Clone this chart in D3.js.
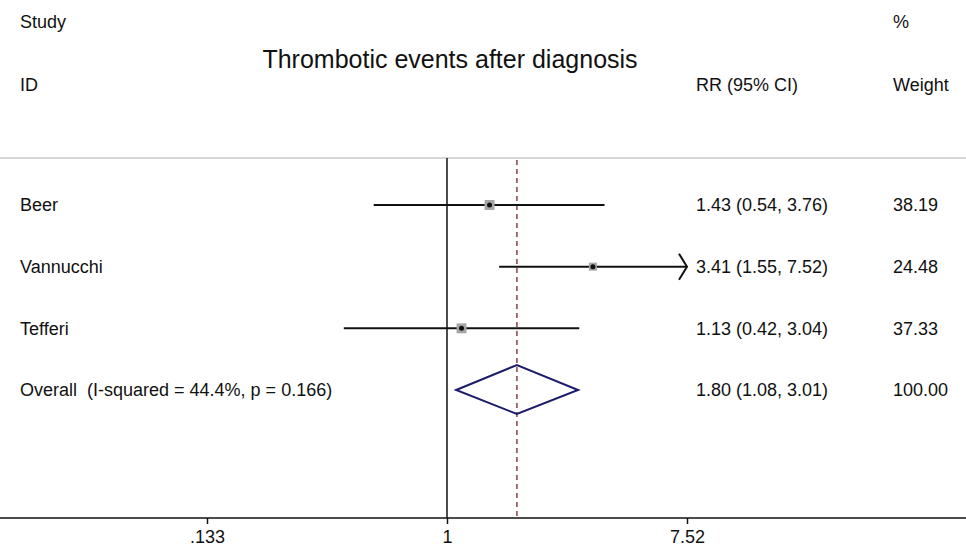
<!DOCTYPE html>
<html>
<head>
<meta charset="utf-8">
<script src="https://cdn.jsdelivr.net/npm/d3@7"></script>
<style>
  body { margin: 0; background: #fff; }
  text { font-family: "Liberation Sans", Arial, sans-serif; fill: #111; white-space: pre; }
</style>
</head>
<body>
<script>
// forest plot data
let studies = ['Beer', 'Vannucchi', 'Tefferi'];
let rr = [1.43, 3.41, 1.13];
let lower = [0.54, 1.55, 0.42];
let upper = [3.76, 7.52, 3.04];
let weights = [38.19, 24.48, 37.33];
let ciLabels = ['1.43 (0.54, 3.76)', '3.41 (1.55, 7.52)', '1.13 (0.42, 3.04)'];
let weightLabels = ['38.19', '24.48', '37.33'];

let overallLabel = 'Overall  (I-squared = 44.4%, p = 0.166)';
let overallRR = 1.80;
let overallLower = 1.08;
let overallUpper = 3.01;
let overallCI = '1.80 (1.08, 3.01)';
let overallWeight = '100.00';

let tickValues = [0.133, 1, 7.52];
let tickLabels = ['.133', '1', '7.52'];

let width = 966;
let height = 546;
let fontSize = '18px';

let svg = d3.select('body')
  .append('svg')
  .attr('width', width)
  .attr('height', height);

let x = d3.scaleLog()
  .domain([0.133, 7.52])
  .range([207, 687]);

let rows = studies.concat(['Overall']);
let y = d3.scalePoint()
  .domain(rows)
  .range([205, 390]);

let axisY = 518;
let plotTop = 158;
let colText = 20;
let colCI = 696;
let colWeight = 893;

// header texts
function label(xPos, yPos, txt, size) {
  return svg.append('text')
    .attr('x', xPos).attr('y', yPos).attr('dy', '0.35em')
    .style('font-size', size || fontSize)
    .text(txt);
}
label(colText, 22, 'Study');
label(colText, 85, 'ID');
label(450, 59, 'Thrombotic events after diagnosis', '25px').attr('text-anchor', 'middle');
label(colCI, 85, 'RR (95% CI)');
label(colWeight, 22, '%');
label(colWeight, 85, 'Weight');

// grey separator under header
svg.append('line')
  .attr('x1', 0).attr('x2', width)
  .attr('y1', plotTop).attr('y2', plotTop)
  .attr('stroke', '#c8c8c8').attr('stroke-width', 1.5);

// no-effect line
svg.append('line')
  .attr('x1', x(1)).attr('x2', x(1))
  .attr('y1', plotTop).attr('y2', axisY)
  .attr('stroke', '#111').attr('stroke-width', 1.5);

// overall estimate dashed line
svg.append('line')
  .attr('x1', x(overallRR)).attr('x2', x(overallRR))
  .attr('y1', plotTop + 2).attr('y2', axisY)
  .attr('stroke', '#7a3a3a').attr('stroke-width', 1.4)
  .attr('stroke-dasharray', '5,4');

// axis
svg.append('line')
  .attr('x1', 0).attr('x2', width)
  .attr('y1', axisY).attr('y2', axisY)
  .attr('stroke', '#111').attr('stroke-width', 1.5);

let axis = svg.append('g')
  .attr('transform', 'translate(0,' + axisY + ')')
  .call(d3.axisBottom(x)
    .tickValues(tickValues)
    .tickFormat(function(d, i) { return tickLabels[i]; })
    .tickSize(6)
    .tickPadding(6));
axis.select('.domain').remove();
axis.selectAll('.tick line').attr('stroke', '#111').attr('stroke-width', 1.5);
axis.selectAll('.tick text')
  .style('font-size', fontSize)
  .style('font-family', '"Liberation Sans", Arial, sans-serif')
  .attr('fill', '#111');

let side = d3.scaleSqrt().domain([0, 38.19]).range([0, 10]);

let rowsG = svg.selectAll('g.study')
  .data(studies)
  .enter().append('g')
  .attr('class', 'study');

// confidence intervals
rowsG.append('line')
  .attr('x1', function(d, i) { return x(lower[i]); })
  .attr('x2', function(d, i) { return x(upper[i]); })
  .attr('y1', function(d) { return y(d); })
  .attr('y2', function(d) { return y(d); })
  .attr('stroke', '#111').attr('stroke-width', 2);

// arrow where the interval hits the axis limit
rowsG.filter(function(d, i) { return upper[i] >= x.domain()[1]; })
  .append('path')
  .attr('d', function(d) {
    let xe = x(x.domain()[1]);
    let yy = y(d);
    return 'M' + (xe - 8) + ',' + (yy - 13) + 'L' + xe + ',' + yy + 'L' + (xe - 8) + ',' + (yy + 13);
  })
  .attr('fill', 'none').attr('stroke', '#111').attr('stroke-width', 2);

// weight boxes
rowsG.append('rect')
  .attr('x', function(d, i) { return x(rr[i]) - side(weights[i]) / 2; })
  .attr('y', function(d, i) { return y(d) - side(weights[i]) / 2; })
  .attr('width', function(d, i) { return side(weights[i]); })
  .attr('height', function(d, i) { return side(weights[i]); })
  .attr('fill', '#a6a6a6');

rowsG.append('circle')
  .attr('cx', function(d, i) { return x(rr[i]); })
  .attr('cy', function(d) { return y(d); })
  .attr('r', 2.5)
  .attr('fill', '#111');

// row texts
rowsG.append('text')
  .attr('x', colText).attr('y', function(d) { return y(d); }).attr('dy', '0.35em')
  .style('font-size', fontSize).text(function(d) { return d; });
rowsG.append('text')
  .attr('x', colCI).attr('y', function(d) { return y(d); }).attr('dy', '0.35em')
  .style('font-size', fontSize).text(function(d, i) { return ciLabels[i]; });
rowsG.append('text')
  .attr('x', colWeight).attr('y', function(d) { return y(d); }).attr('dy', '0.35em')
  .style('font-size', fontSize).text(function(d, i) { return weightLabels[i]; });

// overall diamond
let yo = y('Overall');
svg.append('path')
  .attr('d', 'M' + x(overallLower) + ',' + yo +
    'L' + x(overallRR) + ',' + (yo - 25) +
    'L' + x(overallUpper) + ',' + yo +
    'L' + x(overallRR) + ',' + (yo + 24) + 'Z')
  .attr('fill', 'none').attr('stroke', '#1c1c6b').attr('stroke-width', 2);

label(colText, yo, overallLabel);
label(colCI, yo, overallCI);
label(colWeight, yo, overallWeight);
</script>
</body>
</html>
